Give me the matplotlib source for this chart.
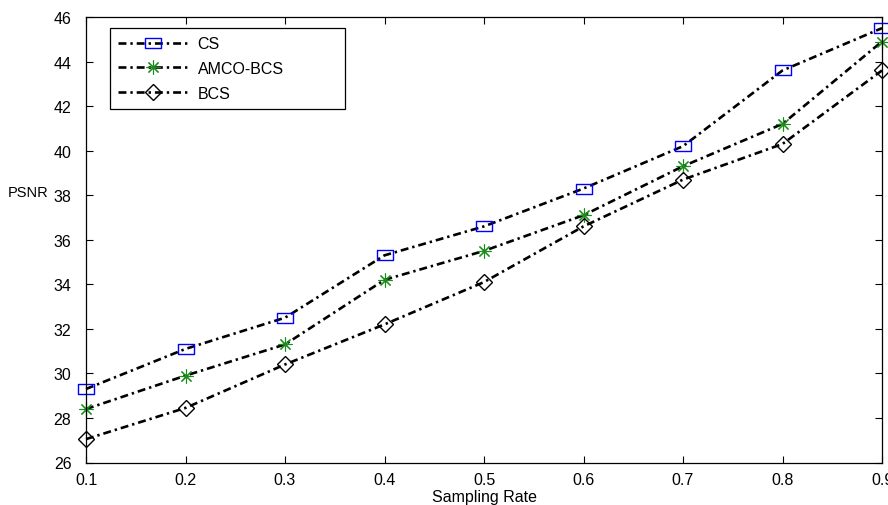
import matplotlib
matplotlib.use('Agg')
import matplotlib.pyplot as plt
from matplotlib.path import Path

plt.rcParams['font.family'] = ['Liberation Sans', 'DejaVu Sans']

# data
sampling_rate = [0.1, 0.2, 0.3, 0.4, 0.5, 0.6, 0.7, 0.8, 0.9]
psnr_cs = [29.3, 31.1, 32.5, 35.3, 36.6, 38.3, 40.2, 43.6, 45.5]
psnr_amco_bcs = [28.4, 29.9, 31.3, 34.2, 35.5, 37.1, 39.3, 41.2, 44.9]
psnr_bcs = [27.05, 28.45, 30.4, 32.2, 34.1, 36.6, 38.7, 40.3, 43.6]

x_ticks = [0.1, 0.2, 0.3, 0.4, 0.5, 0.6, 0.7, 0.8, 0.9]
y_ticks = [26, 28, 30, 32, 34, 36, 38, 40, 42, 44, 46]

# wide, flat square like the stretched matlab export
rect_marker = Path([(-1.5, -1), (1.5, -1), (1.5, 1), (-1.5, 1), (-1.5, -1)],
                   [Path.MOVETO, Path.LINETO, Path.LINETO, Path.LINETO, Path.CLOSEPOLY])

dash_dot = (0, (3.0, 1.5, 0.9, 1.5))
lw = 1.9

fig = plt.figure(figsize=(8.88, 5.06), dpi=100)
ax = fig.add_axes([86 / 888, 1 - 463.5 / 506, 796 / 888, 445.5 / 506])

ax.plot(sampling_rate, psnr_cs, color='black', linestyle=dash_dot, linewidth=lw,
        marker=rect_marker, markersize=11, markerfacecolor='none',
        markeredgecolor='blue', markeredgewidth=1.0, label='CS', clip_on=False)
ax.plot(sampling_rate, psnr_amco_bcs, color='black', linestyle=dash_dot, linewidth=lw,
        marker=(8, 2, 0), markersize=10, markeredgecolor=(0.1, 0.55, 0.1),
        markeredgewidth=0.8, label='AMCO-BCS', clip_on=False)
ax.plot(sampling_rate, psnr_bcs, color='black', linestyle=dash_dot, linewidth=lw,
        marker='D', markersize=8.5, markerfacecolor='none',
        markeredgecolor='black', markeredgewidth=1.0, label='BCS', clip_on=False)

ax.set_xlim(0.1, 0.9)
ax.set_ylim(26, 46)
ax.set_xticks(x_ticks)
ax.set_xticklabels([str(v) for v in x_ticks])
ax.set_yticks(y_ticks)
ax.tick_params(direction='in', length=5, width=0.8, top=True, right=True,
               labelsize=11.5)
ax.tick_params(axis='x', pad=7)
ax.tick_params(axis='y', pad=10.5)
for s in ax.spines.values():
    s.set_linewidth(0.9)

ax.set_xlabel('Sampling Rate', fontsize=11.5, labelpad=1)
ax.set_ylabel('PSNR', fontsize=10.5, rotation=0, ha='right', va='center')
ax.yaxis.set_label_coords(-0.0477, 0.607)

leg = ax.legend(loc='upper left', bbox_to_anchor=(0.030, 0.975, 0.295, 0.0),
                mode='expand', borderaxespad=0, fontsize=11.5, handlelength=4.4,
                handletextpad=0.6, labelspacing=0.62, borderpad=0.5,
                fancybox=False, edgecolor='black', framealpha=1)
leg.get_frame().set_linewidth(0.9)

fig.savefig('out.png', dpi=100)
